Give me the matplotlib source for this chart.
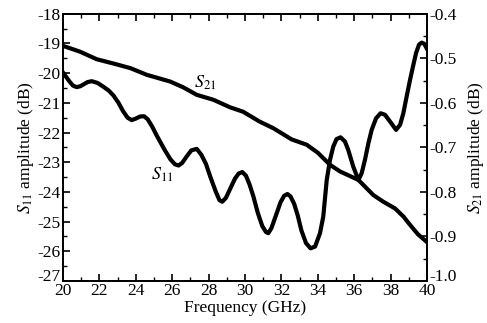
import matplotlib
matplotlib.use("Agg")
import matplotlib.pyplot as plt
import matplotlib.transforms as mtransforms
from matplotlib.ticker import MultipleLocator

plt.rcParams['font.family'] = ['Liberation Serif', 'DejaVu Serif']
plt.rcParams['mathtext.fontset'] = 'stix'
plt.rcParams['axes.unicode_minus'] = False

# S11 (left axis, dB)
s11_freq = [20.0, 20.2, 20.38, 20.55, 20.75, 20.95, 21.12, 21.35, 21.58, 21.9, 22.2, 22.5,
            22.77, 23.05, 23.3, 23.55, 23.77, 24.0, 24.23, 24.45, 24.65, 24.9, 25.15, 25.4,
            25.6, 25.9, 26.15, 26.35, 26.55, 26.8, 27.05, 27.35, 27.6, 27.85, 28.1, 28.4,
            28.6, 28.75, 28.95, 29.18, 29.45, 29.65, 29.85, 30.05, 30.25, 30.46, 30.7, 30.95,
            31.15, 31.28, 31.45, 31.74, 31.95, 32.15, 32.33, 32.5, 32.7, 32.9, 33.1, 33.35,
            33.6, 33.85, 34.12, 34.3, 34.49, 34.67, 34.85, 35.03, 35.25, 35.49, 35.67, 35.95,
            36.23, 36.41, 36.59, 36.78, 36.96, 37.2, 37.45, 37.69, 37.97, 38.3, 38.52, 38.7,
            38.88, 39.07, 39.25, 39.4, 39.56, 39.71, 39.85, 39.98]
s11_vals = [-19.98, -20.15, -20.30, -20.42, -20.47, -20.44, -20.38, -20.30, -20.27, -20.33, -20.45, -20.58,
            -20.75, -21.0, -21.28, -21.5, -21.58, -21.53, -21.46, -21.45, -21.55, -21.8, -22.1, -22.38,
            -22.6, -22.9, -23.07, -23.11, -23.02, -22.8, -22.6, -22.55, -22.75, -23.05, -23.5, -24.0,
            -24.28, -24.33, -24.2, -23.9, -23.55, -23.38, -23.33, -23.45, -23.75, -24.15, -24.7, -25.15,
            -25.35, -25.39, -25.22, -24.72, -24.35, -24.13, -24.07, -24.15, -24.4, -24.8, -25.3, -25.72,
            -25.9, -25.84, -25.39, -24.83, -23.6, -22.92, -22.47, -22.22, -22.16, -22.3, -22.58, -23.15,
            -23.6, -23.37, -22.92, -22.36, -21.91, -21.52, -21.35, -21.4, -21.63, -21.91, -21.74, -21.35,
            -20.79, -20.22, -19.72, -19.32, -19.04, -18.97, -19.01, -19.16]

# S21 (right axis, dB)
s21_freq = [20.0, 20.93, 21.85, 22.8, 23.7, 24.6, 25.88, 26.6, 27.35, 28.26, 29.18, 29.9, 30.8,
            31.56, 32.56, 33.39, 34.0, 34.67, 35.22, 36.23, 37.05, 37.6, 38.24, 38.7, 39.07,
            39.5, 39.98]
s21_vals = [-0.472, -0.485, -0.502, -0.512, -0.522, -0.537, -0.552, -0.565, -0.582, -0.593,
            -0.610, -0.620, -0.642, -0.657, -0.682, -0.694, -0.712, -0.739, -0.754, -0.773,
            -0.807, -0.822, -0.837, -0.855, -0.874, -0.895, -0.912]

l_ticks = [-27, -26, -25, -24, -23, -22, -21, -20, -19, -18]
r_ticks = [-1.0, -0.9, -0.8, -0.7, -0.6, -0.5, -0.4]
x_ticks = [20, 22, 24, 26, 28, 30, 32, 34, 36, 38, 40]

fig = plt.figure(figsize=(4.87, 3.23), dpi=100)
ax = fig.add_axes([0.1294, 0.130, 0.7474, 0.8273])
ax2 = ax.twinx()

ax.plot(s11_freq, s11_vals, color='black', lw=3.0, solid_joinstyle='round')
ax2.plot(s21_freq, s21_vals, color='black', lw=3.0, solid_joinstyle='round')

ax.set_xticks(x_ticks)
ax.set_xticklabels([str(v) for v in x_ticks])
ax.xaxis.set_minor_locator(MultipleLocator(1))
ax.set_yticks(l_ticks)
ax.set_yticklabels([str(v) for v in l_ticks])
ax.yaxis.set_minor_locator(MultipleLocator(0.5))
ax2.set_yticks(r_ticks)
ax2.set_yticklabels([f"{v:.1f}" for v in r_ticks])
ax2.yaxis.set_minor_locator(MultipleLocator(0.05))
ax.set_xlim(20, 40)
ax.set_ylim(-27, -18)
ax2.set_ylim(-1.0, -0.4)

fs = 12.5
ax.tick_params(axis='x', which='both', direction='in', top=True, labelsize=fs, pad=1.5)
ax.tick_params(axis='y', which='both', direction='in', right=False, labelsize=fs, pad=1.5)
ax.tick_params(which='major', length=5, width=1.2)
ax.tick_params(which='minor', length=3, width=1.0)
ax2.tick_params(axis='y', which='both', direction='in', labelsize=fs, pad=1.5)
ax2.tick_params(which='major', length=5, width=1.2)
ax2.tick_params(which='minor', length=3, width=1.0)
for a in (ax, ax2):
    for s in a.spines.values():
        s.set_linewidth(1.3)

ax.set_xlabel('Frequency (GHz)', fontsize=fs, labelpad=1)
ax.set_ylabel(r'$S_{11}$ amplitude (dB)', fontsize=fs, labelpad=1)
ax2.set_ylabel(r'$S_{21}$ amplitude (dB)', fontsize=fs, labelpad=7)

ax.text(27.8, -20.33, r'$S_{21}$', fontsize=13, ha='center', va='center')
ax.text(25.44, -23.43, r'$S_{11}$', fontsize=13, ha='center', va='center')

# nudge the bottom-most y tick labels up so they clear the x tick labels
fig.canvas.draw()
shift = mtransforms.ScaledTranslation(0, 4 / 72, fig.dpi_scale_trans)
for a in (ax, ax2):
    lab = a.get_yticklabels()[0]
    lab.set_transform(lab.get_transform() + shift)

fig.savefig('out.png', dpi=100)
